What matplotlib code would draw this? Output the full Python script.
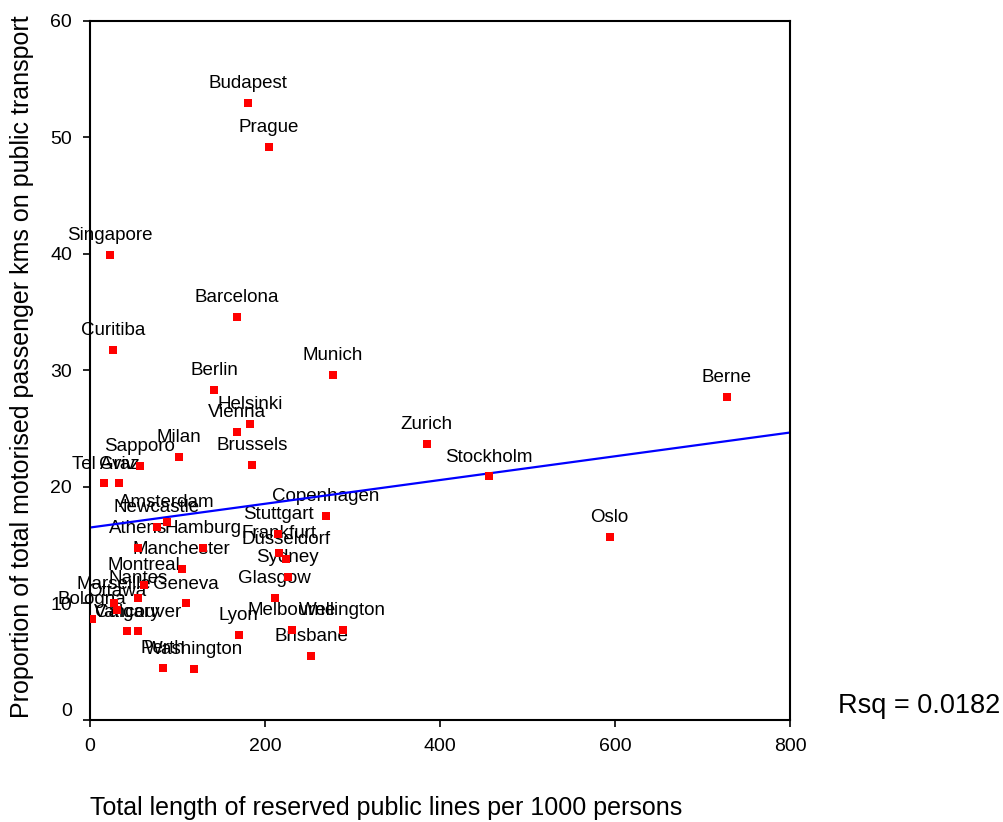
import numpy as np
import matplotlib
matplotlib.use("Agg")
import matplotlib.pyplot as plt

plt.rcParams['font.family'] = ['Liberation Sans', 'DejaVu Sans']

# -----------------------------
# Data
# -----------------------------
cities = [
    "Budapest", "Prague", "Singapore", "Barcelona", "Curitiba", "Munich",
    "Berlin", "Berne", "Helsinki", "Vienna", "Zurich", "Milan", "Brussels",
    "Sapporo", "Stockholm", "Tel Aviv", "Graz", "Copenhagen", "Amsterdam",
    "Newcastle", "Oslo", "Stuttgart", "Athens", "Hamburg", "Frankfurt",
    "Düsseldorf", "Manchester", "Sydney", "Montreal", "Geneva", "Nantes",
    "Marseille", "Ottawa", "Glasgow", "Bologna", "Calgary", "Vancouver",
    "Melbourne", "Wellington", "Lyon", "Brisbane", "Perth", "Washington",
]
reserved_lines = [
    180.6, 204.6, 22.9, 168.0, 26.3, 277.7,
    141.7, 728.0, 182.9, 168.0, 385.0, 101.7, 185.0,
    57.0, 456.0, 16.0, 33.0, 269.7, 88.0,
    76.6, 594.0, 214.9, 55.0, 129.0, 216.0,
    224.0, 105.0, 226.0, 61.7, 109.7, 54.9,
    27.4, 31.0, 211.0, 2.3, 42.3, 54.9,
    231.0, 289.0, 170.0, 252.6, 83.4, 118.9,
]
public_share = [
    52.96, 49.18, 39.9, 34.6, 31.8, 29.6,
    28.3, 27.7, 25.4, 24.7, 23.7, 22.6, 21.9,
    21.8, 20.9, 20.3, 20.3, 17.5, 17.0,
    16.6, 15.7, 16.0, 14.8, 14.8, 14.3,
    13.8, 13.0, 12.3, 11.6, 10.0, 10.5,
    10.0, 9.4, 10.5, 8.7, 7.6, 7.6,
    7.7, 7.7, 7.3, 5.5, 4.5, 4.4,
]
x_ticks = [0, 200, 400, 600, 800]
y_ticks = [0, 10, 20, 30, 40, 50, 60]
rsq_text = "Rsq = 0.0182"

x = np.array(reserved_lines)
y = np.array(public_share)

# linear fit
slope, intercept = np.polyfit(x, y, 1)

# -----------------------------
# Plot
# -----------------------------
fig = plt.figure(figsize=(10.04, 8.22), dpi=100)
ax = fig.add_axes([0.0896, 0.1241, 0.6972, 0.8504])

ax.scatter(x, y, marker="s", s=40, color="#ff0000", linewidths=0, zorder=3)
for name, xi, yi in zip(cities, x, y):
    ax.annotate(name, (xi, yi), xytext=(0, 14), textcoords="offset points",
                ha="center", va="center", fontsize=13.5, zorder=2)

xs = np.array([0, 800])
ax.plot(xs, intercept + slope * xs, color="#0000ff", lw=1.6, zorder=2)

ax.set_xlim(0, 800)
ax.set_ylim(0, 60)
ax.set_xticks(x_ticks)
ax.set_yticks(y_ticks)
ax.tick_params(direction="out", length=5, width=1.2, pad=8)
tick_font = ['Liberation Sans Narrow', 'Liberation Sans', 'DejaVu Sans']
for lab in ax.get_xticklabels() + ax.get_yticklabels():
    lab.set_fontfamily(tick_font)
    lab.set_fontsize(14)
for s in ax.spines.values():
    s.set_linewidth(1.5)
ax.get_yticklabels()[0].set_va("bottom")

fig.text(22 / 1004, 1 - 367 / 822,
         "Proportion of total motorised passenger kms on public transport",
         fontsize=18, rotation=90, ha="center", va="center")
fig.text(0.0896, 1 - 808 / 822, "Total length of reserved public lines per 1000 persons",
         fontsize=18, ha="left", va="center")
fig.text(838 / 1004, 1 - 706 / 822, rsq_text, fontsize=19.5, ha="left", va="center")

fig.savefig("out.png", dpi=100)
